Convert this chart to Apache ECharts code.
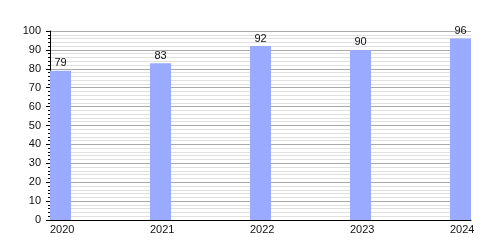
<!DOCTYPE html>
<html><head><meta charset="utf-8">
<script src="https://cdn.jsdelivr.net/npm/echarts@6/dist/echarts.min.js"></script>
<style>html,body{margin:0;padding:0;background:#fff}#c{width:500px;height:250px}</style>
</head><body><div id="c"></div>
<script>
const years = [2020, 2021, 2022, 2023, 2024];
const values = [79, 83, 92, 90, 96];
const yMin = 0, yMax = 100, yStep = 10;

const chart = echarts.init(document.getElementById('c'), null, {renderer: 'canvas'});
const font = '"Liberation Sans", Arial, sans-serif';
chart.setOption({
  animation: false,
  grid: {left: 50, right: 29, top: 31, bottom: 30},
  xAxis: {
    type: 'value', min: years[0], max: years[years.length - 1] + 0.21, interval: 1,
    axisLine: {show: true, lineStyle: {color: '#000', width: 1}},
    axisTick: {show: false},
    splitLine: {show: false},
    axisLabel: {
      color: '#111', fontSize: 11, fontFamily: font, align: 'left', margin: 4,
      showMaxLabel: false,
      formatter: v => Number.isInteger(v) ? String(v) : ''
    }
  },
  yAxis: {
    type: 'value', min: yMin, max: yMax, interval: yStep,
    axisLine: {show: true, lineStyle: {color: '#000', width: 1}},
    axisTick: {show: true, length: 4, lineStyle: {color: '#000'}},
    minorTick: {show: true, splitNumber: 5, length: 2, lineStyle: {color: '#000'}},
    splitLine: {show: true, lineStyle: {color: '#aaa', width: 1}},
    minorSplitLine: {show: true, lineStyle: {color: '#e0e0e0', width: 1}},
    axisLabel: {color: '#111', fontSize: 11, fontFamily: font, margin: 9}
  },
  series: [{
    type: 'custom',
    data: years.map((y, i) => [y, values[i]]),
    encode: {x: 0, y: 1},
    renderItem: function (params, api) {
      const top = api.coord([api.value(0), api.value(1)]);
      const base = api.coord([api.value(0), 0]);
      return {
        type: 'rect',
        shape: {x: top[0], y: top[1], width: 21, height: base[1] - top[1]},
        style: {fill: '#99aaff'},
        textContent: {
          style: {text: String(api.value(1)), fill: '#111', fontSize: 11, fontFamily: font}
        },
        textConfig: {position: 'top', distance: 2}
      };
    }
  }]
});
</script></body></html>
